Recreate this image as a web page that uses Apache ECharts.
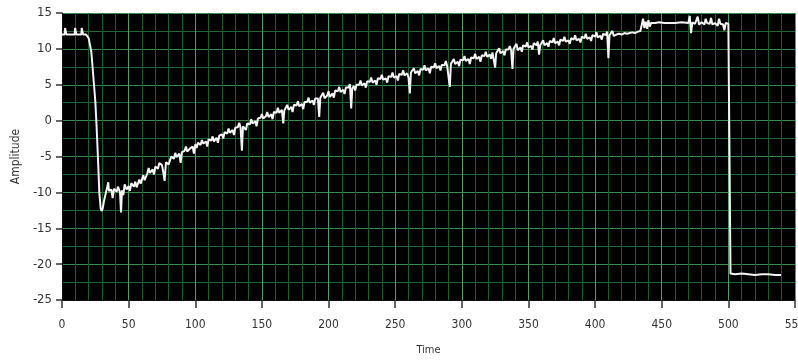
<!DOCTYPE html>
<html>
<head>
<meta charset="utf-8">
<script src="https://cdn.jsdelivr.net/npm/echarts@6/dist/echarts.min.js"></script>
<style>
html,body{margin:0;padding:0;background:#fff;}
#chart{width:798px;height:360px;}
</style>
</head>
<body>
<div id="chart"></div>
<script>
// Time values (x) of the recorded trace
var time = [
0,2,2.3,3,3.3,9.5,9.8,10.5,10.8,14.5,14.8,15.5,15.8,18,20,22,24,25,26,26.8,28,29,29.7,30.5,31.5,33,34,34.7,35.2,37,38,39,41,42,43.5,44.3,45,46,47,48.5,
50,51,52,54,55,56,58,59,61,62,64,65,66,68,69,70,72,73,75,76,77,78,79,80,82,84,85,86,88,89,90,92,93,94,96,98,99,
100,101,102,104,105,106,108,109,110,112,113,114,116,117,118,120,121,122,124,125,126,128,129,130,132,133,134,135,135.8,137,138,139,141,142,143,145,146,147,149,
150,151,153,154,155,157,158,159,161,162,163,165,166,166.8,168,169,170,172,173,174,176,177,178,180,181,182,184,185,186,188,189,190,192,193,193.8,195,196,197,199,
200,201,203,204,205,207,208,209,211,212,213,215,216,217,217.8,219,220,221,223,224,225,227,228,229,231,232,233,235,236,237,239,240,241,243,244,245,247,248,249,
251,252,253,255,256,257,259,260,261,261.8,263,264,265,267,268,269,271,272,273,275,276,277,279,280,281,283,284,285,287,288,289,291,291.8,293,294,295,297,298,299,
301,302,303,305,306,307,309,310,311,313,314,315,317,318,319,321,322,323,325,325.8,327,328,329,331,332,333,335,336,337,338,338.8,340,341,342,344,345,346,348,349,
350,352,353,354,356,357,358,358.8,360,361,362,364,365,366,368,369,370,372,373,374,376,377,378,380,381,382,384,385,386,388,389,390,392,393,394,396,397,398,
400,401,402,404,405,406,408,409,410,410.8,412,413,414,416,418,420,422,424,426,428,430,432,434,435,436,437,438,439,440,441,442,445,448,
452,456,460,465,470,471,472,473,475,477,478,480,482,483,484,486,487,488,490,492,493,494,496,497,498,500,501,501.6,505,510,515,520,525,530,535,539.5
];
// Amplitude values (y) of the recorded trace
var amplitude = [
12,12,12.9,12.9,12,12,12.9,12.9,12,12,12.9,12.9,12,12,11.5,9.6,5,2.7,-1,-4.4,-10,-12.2,-12.6,-12.3,-11.2,-10,-9.2,-8.6,-9.8,-9.6,-10.8,-9.5,-9.9,-9.2,-10,-12.8,-9.7,-10.4,-8.9,-9.6,
-9.1,-9.8,-8.7,-9.2,-8.5,-9.3,-8.2,-8.8,-7.6,-8.3,-7.4,-6.6,-7.3,-6.8,-7.5,-6.4,-6.7,-5.9,-6.2,-7.2,-8.4,-5.8,-5.6,-6.1,-5,-5.3,-4.5,-5.1,-4.6,-5.9,-4.4,-4.2,-3.6,-4.3,-3.9,-3.6,-4.6,
-3.3,-3.8,-3.1,-3.4,-2.7,-3.2,-2.9,-3.6,-2.6,-2.8,-2.2,-2.9,-2.4,-3.1,-2.1,-1.9,-2.5,-1.6,-1.8,-1.1,-1.7,-1.3,-2.0,-1.0,-0.9,-0.3,-1.0,-4.2,-0.8,-0.6,-1.3,-0.4,-0.5,0.2,-0.4,-0.1,-0.8,0.3,0.4,
0.9,0.3,0.6,1.2,0.5,0.9,0.2,1.2,1.1,1.8,1.1,1.5,-0.4,1.4,1.6,2.2,1.5,1.9,1.2,2.2,2.1,2.7,2.0,2.3,1.6,2.6,2.6,3.2,2.5,2.8,2.2,3.1,3.1,0.5,3.2,3.4,3.9,3.1,3.5,
4.1,3.3,3.8,3.2,4.2,4.1,4.7,4.0,4.3,3.7,4.6,4.6,5.1,1.7,4.5,4.8,4.2,5.0,5.0,5.6,4.9,5.2,4.6,5.5,5.4,6.0,5.3,5.6,5.0,5.9,5.8,6.4,5.7,5.9,5.3,6.2,6.1,6.7,6.0,
6.2,5.6,6.5,6.4,7.0,6.3,6.6,6.0,3.8,6.7,6.8,7.3,6.6,6.9,6.3,7.2,7.1,7.7,7.0,7.3,6.6,7.5,7.4,8.0,7.3,7.6,7.0,7.8,7.7,8.3,7.6,4.7,7.9,8.1,8.6,7.9,8.2,7.6,8.5,
8.4,9.0,8.3,8.6,7.9,8.8,8.7,9.3,8.6,8.9,8.2,9.1,9.0,9.6,8.9,9.2,8.6,9.5,7.4,9.4,9.6,10.1,9.4,9.7,9.1,9.9,9.9,10.4,9.8,7.2,10.0,10.2,10.7,9.8,10.2,9.6,10.5,10.3,10.9,
10.2,10.4,9.9,10.8,10.5,11.0,9.2,10.5,10.6,11.2,10.5,10.8,10.3,11.1,10.9,11.5,10.8,11.0,10.5,11.3,11.1,11.7,11.0,11.2,10.7,11.5,11.3,11.9,11.2,11.4,10.9,11.7,11.5,12.1,11.4,11.6,11.1,11.9,
11.7,12.3,11.6,11.8,11.3,12.1,11.9,12.4,8.7,11.9,12.0,12.5,11.8,12.0,12.1,12.0,12.2,12.1,12.2,12.3,12.2,12.4,12.5,12.6,14.2,12.9,13.8,12.8,14.0,13.1,13.6,13.6,13.7,
13.6,13.6,13.6,13.7,13.6,14.6,12.2,13.7,13.5,14.5,13.4,13.7,13.4,14.2,13.6,13.5,14.3,13.4,13.6,13.2,14.2,13.5,13.4,12.6,13.6,13.5,13.3,-21.3,-21.4,-21.3,-21.4,-21.5,-21.4,-21.4,-21.5,-21.5
];
var xTickStep = 50;
var yTickStep = 5;

var signal = time.map(function (t, i) { return [t, amplitude[i]]; });

var chart = echarts.init(document.getElementById('chart'), null, {renderer: 'canvas'});
var fam = "'DejaVu Sans Condensed','DejaVu Sans',sans-serif";
chart.setOption({
  animation: false,
  backgroundColor: '#ffffff',
  grid: {left: 62, right: 3, top: 13, bottom: 60, show: true, backgroundColor: '#000000', borderWidth: 0,
         containLabel: false, outerBoundsMode: 'none'},
  xAxis: {
    type: 'value', min: 0, max: 550, interval: xTickStep,
    name: 'Time', nameLocation: 'middle', nameGap: 45,
    nameTextStyle: {fontFamily: fam, fontSize: 11, color: '#333'},
    axisLine: {show: true, onZero: false, lineStyle: {color: '#111', width: 1}},
    axisTick: {show: true, length: 8, lineStyle: {color: '#333', width: 1.5}},
    axisLabel: {margin: 19, fontFamily: fam, fontSize: 12, color: '#333', showMaxLabel: true, hideOverlap: false},
    splitLine: {show: true, lineStyle: {color: '#4f9e5f', width: 1}},
    minorTick: {show: false, splitNumber: 5},
    minorSplitLine: {show: true, lineStyle: {color: '#1c5c2a', width: 1}}
  },
  yAxis: {
    type: 'value', min: -25, max: 15, interval: yTickStep,
    name: 'Amplitude', nameLocation: 'middle', nameGap: 40, nameRotate: 90,
    nameTextStyle: {fontFamily: fam, fontSize: 12, color: '#333'},
    axisLine: {show: true, onZero: false, lineStyle: {color: '#111', width: 1}},
    axisTick: {show: true, length: 6, lineStyle: {color: '#333', width: 1.5}},
    axisLabel: {margin: 10, fontFamily: fam, fontSize: 13, color: '#333'},
    splitLine: {show: true, lineStyle: {color: '#378c49', width: 1}},
    minorTick: {show: false, splitNumber: 2},
    minorSplitLine: {show: true, lineStyle: {color: '#1f6630', width: 1}}
  },
  series: [{
    type: 'line',
    data: signal,
    showSymbol: false,
    symbol: 'none',
    lineStyle: {color: '#f4f4f4', width: 2},
    itemStyle: {color: '#f4f4f4'},
    z: 5
  }]
});
</script>
</body>
</html>
